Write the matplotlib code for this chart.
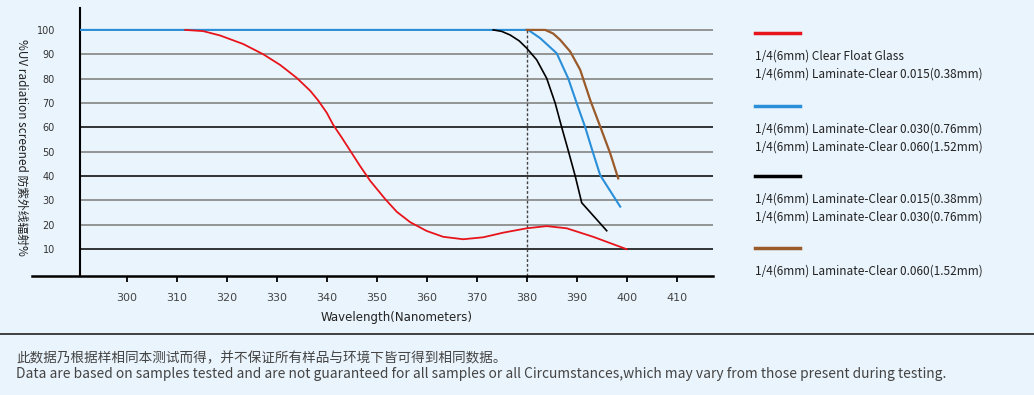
import numpy as np
import matplotlib.pyplot as plt
from matplotlib.lines import Line2D

plt.rcParams['font.family'] = ['Noto Sans CJK SC', 'DejaVu Sans']

# ---- data ----
red_x = [311.7, 315.3, 318.7, 323.3, 327.3, 330.7, 334, 336.7, 338.3, 340, 341.3, 343,
         344.7, 346.7, 348.7, 351.7, 354, 356.7, 360, 363.3, 367.3, 371.3, 375.3, 380,
         384, 388, 393.3, 400]
red_y = [100, 99.5, 97.7, 94.2, 90.0, 85.6, 80.3, 75.0, 71.0, 66.0, 61.0, 55.8,
         50.4, 44.0, 38.0, 30.5, 25.3, 21.0, 17.4, 15.0, 14.0, 14.8, 16.7, 18.5,
         19.4, 18.5, 15.0, 9.9]

blue_x = [290.7, 380.3, 382.7, 386, 388.3, 390, 391.7, 393.3, 394.7, 398.7]
blue_y = [100, 100, 96.6, 90.4, 80.1, 69.9, 60.0, 49.3, 40.3, 27.4]

black_x = [373.3, 375, 376.7, 378.5, 380, 382, 384, 385.7, 387, 388.3, 389.7, 391, 396]
black_y = [100, 99.4, 97.9, 95.5, 92.5, 87.7, 80.1, 69.9, 60.0, 50.5, 40.0, 29.0, 17.5]

brown_x = [380, 383.7, 385.3, 386.7, 388.7, 390.7, 392.7, 394.7, 396.7, 398.3]
brown_y = [100, 100, 98.5, 95.9, 91.1, 83.6, 71.2, 60.3, 49.3, 39.0]

x_ticks = [300, 310, 320, 330, 340, 350, 360, 370, 380, 390, 400, 410]
y_ticks = [10, 20, 30, 40, 50, 60, 70, 80, 90, 100]
grid_dark = [10, 40, 60]

legend_groups = [
    ('#e8141b', ['1/4(6mm) Clear Float Glass', '1/4(6mm) Laminate-Clear 0.015(0.38mm)']),
    ('#2a8fd8', ['1/4(6mm) Laminate-Clear 0.030(0.76mm)', '1/4(6mm) Laminate-Clear 0.060(1.52mm)']),
    ('#000000', ['1/4(6mm) Laminate-Clear 0.015(0.38mm)', '1/4(6mm) Laminate-Clear 0.030(0.76mm)']),
    ('#9a5a2a', ['1/4(6mm) Laminate-Clear 0.060(1.52mm)']),
]

bg = '#eaf4fc'
W, H = 1034, 395
fig = plt.figure(figsize=(W / 100, H / 100), dpi=100, facecolor=bg)

# axes placed by pixel box (left 80, right 713, top 8, bottom 276)
ax = fig.add_axes([80 / W, 1 - 276 / H, (713 - 80) / W, (276 - 8) / H])
ax.set_facecolor(bg)
ax.set_xlim(290.66, 417.26)
ax.set_ylim(-1.1, 109.0)

for v in y_ticks:
    c = '#000000' if v in grid_dark else '#8c8c8c'
    ax.axhline(v, color=c, lw=1.3 if v not in grid_dark else 1.1, zorder=1)

ax.axvline(380, ymin=0, ymax=(100 + 1.1) / 110.1, color='#444444', lw=1.0,
           ls=(0, (2, 1.5)), zorder=2)

ax.plot(blue_x, blue_y, color='#2a8fd8', lw=1.5, zorder=3)
ax.plot(black_x, black_y, color='#000000', lw=1.2, zorder=3)
ax.plot(brown_x, brown_y, color='#9a5a2a', lw=1.6, zorder=3)
ax.plot(red_x, red_y, color='#e8141b', lw=1.3, zorder=4)

for s in ['top', 'right', 'bottom']:
    ax.spines[s].set_visible(False)
ax.spines['left'].set_linewidth(1.5)

# bottom axis line extends left of the y axis
ax.add_line(Line2D([-0.076, 1.0], [0, 0], transform=ax.transAxes, color='#000000',
                   lw=1.8, clip_on=False))

ax.set_xticks(x_ticks)
ax.set_xticklabels([str(t) for t in x_ticks], fontsize=8, color='#444444',
                   family=['DejaVu Sans'])
ax.tick_params(axis='x', length=4, width=1.3, color='#000000', pad=8)
ax.set_yticks(y_ticks)
ax.set_yticklabels([str(t) for t in y_ticks], fontsize=7, color='#333333',
                   family=['DejaVu Sans'])
ax.tick_params(axis='y', length=0, pad=18)

ax.set_xlabel('Wavelength(Nanometers)', fontsize=8.5, color='#222222', labelpad=6,
              family=['DejaVu Sans'])
fig.text(22 / W, 1 - 147 / H, '%UV radiation screened 防紫外线辐射%', rotation=-90,
         ha='center', va='center', fontsize=8.5, color='#222222')

# legend on the right
line_y = [33, 106, 176, 248]
for (col, texts), ly in zip(legend_groups, line_y):
    fig.add_artist(Line2D([755 / W, 800 / W], [1 - ly / H] * 2, color=col, lw=2.5))
    for i, t in enumerate(texts):
        fig.text(755 / W, 1 - (ly + 23 + 18 * i) / H, t, ha='left', va='center',
                 fontsize=8.5, color='#222222')

# footer
fig.add_artist(Line2D([0, 1], [1 - 334 / H] * 2, color='#222222', lw=1.2))
fig.text(16 / W, 1 - 358 / H, '此数据乃根据样相同本测试而得，并不保证所有样品与环境下皆可得到相同数据。',
         ha='left', va='center', fontsize=9.8, color='#444444')
fig.text(16 / W, 1 - 374 / H,
         'Data are based on samples tested and are not guaranteed for all samples or all '
         'Circumstances,which may vary from those present during testing.',
         ha='left', va='center', fontsize=9.95, color='#444444')

fig.savefig('out.png', dpi=100, facecolor=bg)
